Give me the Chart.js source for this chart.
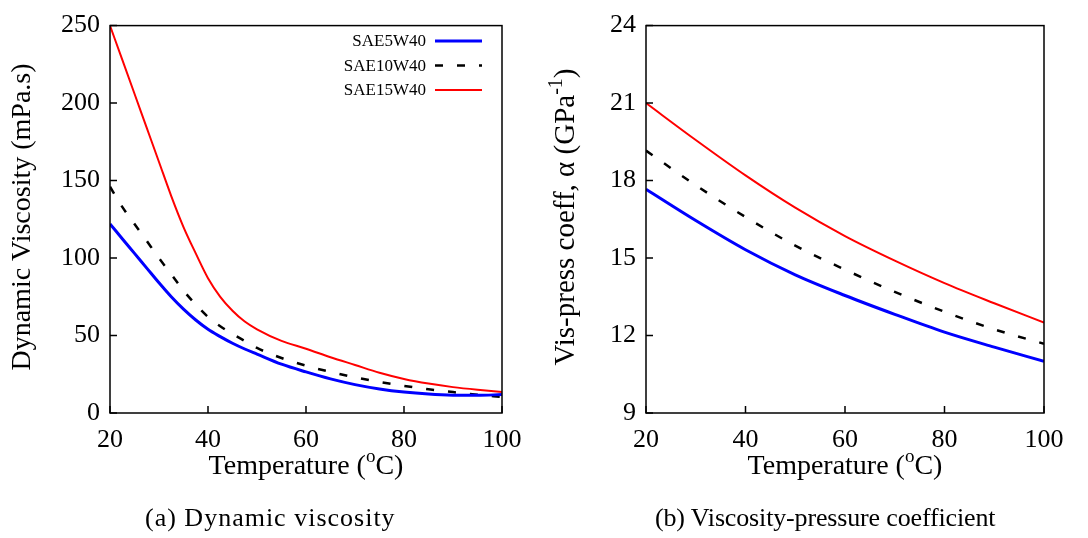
<!DOCTYPE html>
<html>
<head>
<meta charset="utf-8">
<title>Oil viscosity vs temperature</title>
<script src="https://cdn.jsdelivr.net/npm/chart.js@4.4.0/dist/chart.umd.min.js"></script>
<style>
  body { margin: 0; background: #fff; }
  .wrap { position: relative; width: 1088px; height: 538px; overflow: hidden; }
  #viscChart { position: absolute; left: 0; top: 0; }
  #alphaChart { position: absolute; left: 540px; top: 0; }
  .caption {
    position: absolute; top: 505px; line-height: 1;
    font-family: 'Liberation Serif', serif; font-size: 26px; color: #000; white-space: nowrap;
  }
</style>
</head>
<body>
<div class="wrap">
  <canvas id="viscChart" width="540" height="538"></canvas>
  <canvas id="alphaChart" width="548" height="538"></canvas>
  <div class="caption" style="left:145px; letter-spacing:1px">(a) Dynamic viscosity</div>
  <div class="caption" style="left:655px; letter-spacing:-0.15px">(b) Viscosity-pressure coefficient</div>
</div>
<script>
// oil grades
const grades = ['SAE5W40', 'SAE10W40', 'SAE15W40'];
const gradeColors = ['#0000ff', '#000000', '#ff0000'];

// dynamic viscosity (mPa.s) against temperature (C)
const tempsVisc = [20, 22.5, 25, 27.5, 30, 32.5, 35, 37.5, 40, 42.5, 45, 47.5, 50, 55, 60, 65, 70, 75, 80, 85, 90, 95, 100];
const viscSae5 = [122, 112.5, 103, 93.5, 84, 75, 67, 60, 54, 49.3, 45, 41.3, 38, 31.5, 26.5, 22, 18.3, 15.5, 13.5, 12.2, 11.5, 11.4, 11.9];
const viscSae10 = [146, 133, 122, 111, 100, 89.5, 79, 70, 62, 56, 51, 46.5, 42, 35.5, 30.5, 26.5, 23, 20, 17.5, 15.3, 13.5, 11.8, 10.3];
const viscSae15 = [250, 228, 206, 184, 162, 140, 120, 103, 87, 75, 66, 59, 54, 46.5, 41.5, 36, 31, 26, 22, 19, 16.7, 15, 13.6];

// viscosity-pressure coefficient (1/GPa) against temperature (C)
const tempsAlpha = [20, 30, 40, 50, 60, 70, 80, 90, 100];
const alphaSae5 = [17.66, 16.45, 15.32, 14.35, 13.55, 12.82, 12.13, 11.55, 11.0];
const alphaSae10 = [19.16, 17.82, 16.59, 15.48, 14.55, 13.69, 12.92, 12.24, 11.68];
const alphaSae15 = [21.0, 19.57, 18.2, 16.95, 15.85, 14.9, 14.03, 13.25, 12.5];

const FONT = '"Liberation Serif", serif';

// text with superscript pieces, centred on (cx, baseline cy)
function drawRich(ctx, parts, cx, cy, angle, size) {
  const base = size + 'px ' + FONT;
  const small = Math.round(size * 0.68) + 'px ' + FONT;
  let total = 0;
  parts.forEach(([t, sup]) => {
    ctx.font = sup ? small : base;
    total += ctx.measureText(t).width;
  });
  ctx.save();
  ctx.translate(cx, cy);
  ctx.rotate(angle);
  ctx.fillStyle = '#000';
  ctx.textAlign = 'left';
  ctx.textBaseline = 'alphabetic';
  let xx = -total / 2;
  parts.forEach(([t, sup]) => {
    ctx.font = sup ? small : base;
    ctx.fillText(t, xx, sup ? -size * 0.42 : 0);
    xx += ctx.measureText(t).width;
  });
  ctx.restore();
}

// box round the plot, inward tick marks and axis titles
const frameAndTitles = {
  id: 'frameAndTitles',
  afterDraw(chart, args, opts) {
    const { ctx, chartArea: { left, right, top, bottom }, scales: { x, y } } = chart;
    ctx.save();
    ctx.strokeStyle = '#000';
    ctx.lineWidth = 1.5;
    ctx.setLineDash([]);
    ctx.strokeRect(left, top, right - left, bottom - top);
    ctx.beginPath();
    x.ticks.forEach((t) => {
      const px = x.getPixelForValue(t.value);
      ctx.moveTo(px, bottom);
      ctx.lineTo(px, bottom - 7);
    });
    y.ticks.forEach((t) => {
      const py = y.getPixelForValue(t.value);
      ctx.moveTo(left, py);
      ctx.lineTo(left + 7, py);
    });
    ctx.stroke();
    drawRich(ctx, opts.xTitle, (left + right) / 2, opts.xTitleY, 0, 28);
    drawRich(ctx, opts.yTitle, opts.yTitleX, opts.yTitleY, -Math.PI / 2, opts.ySize);
    ctx.restore();
  },
};

// legend: label on the left, line sample on the right
const sideLegend = {
  id: 'sideLegend',
  afterDraw(chart, args, opts) {
    if (!opts.show) return;
    const { ctx } = chart;
    ctx.save();
    ctx.font = '17px ' + FONT;
    ctx.textAlign = 'right';
    ctx.textBaseline = 'middle';
    chart.data.datasets.forEach((ds, i) => {
      const yy = opts.y + i * opts.rowGap;
      ctx.fillStyle = '#000';
      ctx.fillText(ds.label, opts.textRight, yy + 1);
      ctx.strokeStyle = ds.borderColor;
      ctx.lineWidth = ds.borderWidth;
      ctx.setLineDash(ds.borderDash || []);
      ctx.beginPath();
      ctx.moveTo(opts.lineStart, yy);
      ctx.lineTo(opts.lineEnd, yy);
      ctx.stroke();
    });
    ctx.restore();
  },
};

const makeSets = function (temps, series) {
  return series.map((vals, i) => ({
    label: grades[i],
    data: temps.map((t, j) => ({ x: t, y: vals[j] })),
    borderColor: gradeColors[i],
    borderWidth: i === 0 ? 3 : i === 1 ? 2.5 : 2,
    borderDash: i === 1 ? [8, 14] : [],
    pointRadius: 0,
    cubicInterpolationMode: 'monotone',
    fill: false,
  }));
};

const makeConfig = function (datasets, s) {
  return {
    type: 'line',
    data: { datasets },
    options: {
      responsive: false,
      animation: false,
      layout: { padding: s.padding },
      plugins: {
        legend: { display: false },
        tooltip: { enabled: false },
        frameAndTitles: s.titles,
        sideLegend: s.legend,
      },
      scales: {
        x: {
          type: 'linear',
          min: 20,
          max: 100,
          grid: { display: false, drawTicks: false },
          border: { display: false },
          ticks: { stepSize: 20, padding: 12, color: '#000', font: { family: FONT, size: 26 } },
          afterFit(scale) { scale.height = 125; },
        },
        y: {
          min: s.yMin,
          max: s.yMax,
          grid: { display: false, drawTicks: false },
          border: { display: false },
          ticks: { stepSize: s.yStep, padding: 10, color: '#000', font: { family: FONT, size: 26 } },
          afterFit(scale) { scale.width = s.yWidth; },
        },
      },
    },
    plugins: [frameAndTitles, sideLegend],
  };
};

new Chart(document.getElementById('viscChart'), makeConfig(
  makeSets(tempsVisc, [viscSae5, viscSae10, viscSae15]),
  {
    padding: { left: 0, top: 21, right: 38, bottom: 0 },
    yMin: 0, yMax: 250, yStep: 50, yWidth: 110,
    titles: {
      xTitle: [['Temperature (', 0], ['o', 1], ['C)', 0]],
      xTitleY: 474,
      yTitle: [['Dynamic Viscosity (mPa.s)', 0]],
      yTitleX: 30,
      yTitleY: 217,
      ySize: 28,
    },
    legend: { show: true, y: 41, rowGap: 24.5, textRight: 426, lineStart: 435, lineEnd: 482 },
  }
));

new Chart(document.getElementById('alphaChart'), makeConfig(
  makeSets(tempsAlpha, [alphaSae5, alphaSae10, alphaSae15]),
  {
    padding: { left: 0, top: 14, right: 44, bottom: 0 },
    yMin: 9, yMax: 24, yStep: 3, yWidth: 106,
    titles: {
      xTitle: [['Temperature (', 0], ['o', 1], ['C)', 0]],
      xTitleY: 474,
      yTitle: [['Vis-press coeff, \u03b1 (GPa', 0], ['-1', 1], [')', 0]],
      yTitleX: 34,
      yTitleY: 217,
      ySize: 29,
    },
    legend: { show: false },
  }
));
</script>
</body>
</html>
